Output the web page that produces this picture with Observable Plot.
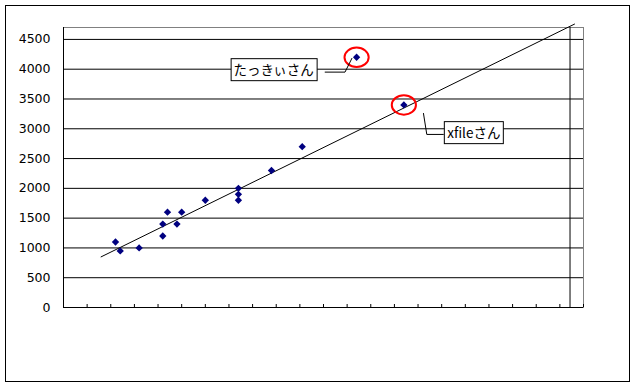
<!DOCTYPE html>
<html><head><meta charset="utf-8">
<script src="https://cdn.jsdelivr.net/npm/d3@7"></script>
<script src="https://cdn.jsdelivr.net/npm/@observablehq/plot@0.6"></script>
<style>body{margin:0;background:#fff}#chart{width:636px;height:386px}</style>
</head><body><div id="chart"></div>
<script>
// data
const xValues = [2.2, 2.4, 3.2, 4.2, 4.2, 4.4, 4.8, 5.0, 6.0, 7.4, 7.4, 7.4, 8.8, 10.1, 12.4, 14.4];
const yValues = [1100, 950, 1000, 1400, 1200, 1600, 1400, 1600, 1800, 2000, 1900, 1800, 2300, 2700, 4200, 3400];
const yTicks = [0, 500, 1000, 1500, 2000, 2500, 3000, 3500, 4000, 4500];
const xTicks = [0,1,2,3,4,5,6,7,8,9,10,11,12,13,14,15,16,17,18,19,20,21,22];
const trendX = [1.59, 21.62];
const trendY = [850, 4757];
const highlightIdx = [14, 15];
const labelNames = ["たっきぃさん", "xfileさん"];
const labelX = [8.89, 17.36];
const labelY = [3967, 2910];
const leader1X = [11.07, 11.91, 12.20];
const leader1Y = [3951, 3951, 4181];
const leader2X = [15.23, 15.37, 16.07];
const leader2Y = [3257, 2905, 2905];
const refLineX = [21.43];

const points = xValues.map((x, i) => ({x, y: yValues[i]}));
const highlights = highlightIdx.map(i => points[i]);
const trend = trendX.map((x, i) => ({x, y: trendY[i]}));
const labels = labelNames.map((t, i) => ({t, x: labelX[i], y: labelY[i]}));
const leader1 = leader1X.map((x, i) => ({x, y: leader1Y[i]}));
const leader2 = leader2X.map((x, i) => ({x, y: leader2Y[i]}));

const ellipse = {
  draw(ctx, size) {
    const r = Math.sqrt(size / Math.PI), rx = r * 1.1, ry = r * 0.88, k = 0.5523;
    ctx.moveTo(rx, 0);
    ctx.bezierCurveTo(rx, ry * k, rx * k, ry, 0, ry);
    ctx.bezierCurveTo(-rx * k, ry, -rx, ry * k, -rx, 0);
    ctx.bezierCurveTo(-rx, -ry * k, -rx * k, -ry, 0, -ry);
    ctx.bezierCurveTo(rx * k, -ry, rx, -ry * k, rx, 0);
    ctx.closePath();
  }
};

const outerFrame = (index, scales, values, dims) =>
  d3.create("svg:rect").attr("x", 5.5).attr("y", 5.5)
    .attr("width", dims.width - 12).attr("height", dims.height - 10)
    .attr("fill", "none").attr("stroke", "black").node();

const svg = Plot.plot({
  width: 636, height: 386,
  marginLeft: 63, marginRight: 53, marginTop: 27, marginBottom: 79,
  style: {background: "white", fontFamily: "DejaVu Sans"},
  x: {domain: [0, 22], axis: null},
  y: {domain: [0, 4700], axis: null},
  marks: [
    outerFrame,
    Plot.frame({stroke: "#808080"}),
    Plot.ruleY(yTicks.filter(d => d > 0), {stroke: "black"}),
    Plot.ruleX(refLineX, {stroke: "black"}),
    Plot.ruleX([0], {stroke: "black"}),
    Plot.ruleY([0], {stroke: "black"}),
    Plot.tickX(xTicks, {x: d => d, insetTop: 277, stroke: "black"}),
    Plot.axisY({ticks: yTicks, tickSize: 0, tickPadding: 13, label: null, tickFormat: d => String(d),
      fontSize: 12.5, fill: "black", fontFamily: "DejaVu Sans"}),
    Plot.line(trend, {x: "x", y: "y", stroke: "black", strokeWidth: 1}),
    Plot.dot(points, {x: "x", y: "y", symbol: "diamond2", r: 3.3, fill: "#000080", stroke: "none"}),
    Plot.dot(highlights, {x: "x", y: "y", symbol: ellipse, r: 11, fill: "none", stroke: "#ff0000", strokeWidth: 2}),
    Plot.line(leader1, {x: "x", y: "y", stroke: "black", strokeWidth: 1}),
    Plot.line(leader2, {x: "x", y: "y", stroke: "black", strokeWidth: 1}),
    Plot.text(labels, {x: "x", y: "y", text: "t", fontSize: 13.5, fontFamily: "Noto Sans CJK JP", fill: "black"})
  ]
});
document.getElementById("chart").appendChild(svg);

// boxes behind the annotation labels
d3.select(svg).selectAll('g[aria-label="text"] text').each(function() {
  const b = this.getBBox();
  const cy = b.y + b.height / 2;
  const pad = 3;
  const r = d3.create("svg:rect")
    .attr("x", Math.round(b.x - pad) + 0.5)
    .attr("y", Math.round(cy - 11) + 0.5)
    .attr("width", Math.round(b.width + 2 * pad))
    .attr("height", 22)
    .attr("fill", "white").attr("stroke", "black");
  const t = this.getAttribute("transform");
  if (t) r.attr("transform", t);
  this.parentNode.insertBefore(r.node(), this);
});
</script>
</body></html>
